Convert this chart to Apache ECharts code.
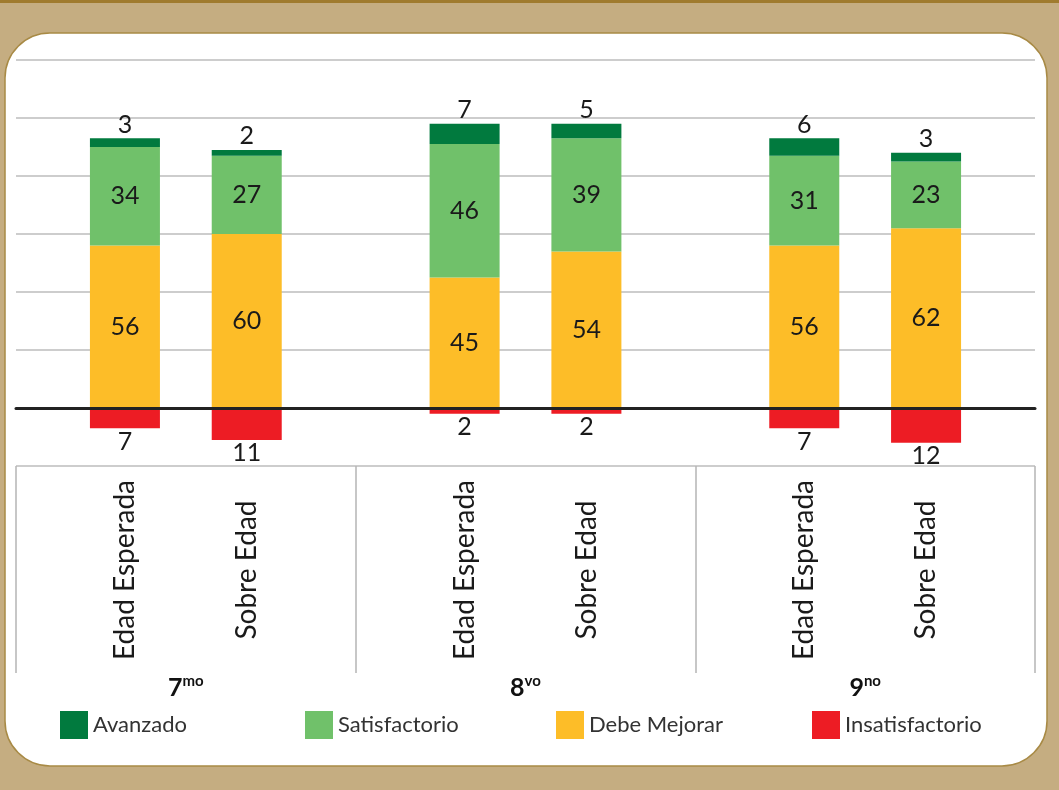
<!DOCTYPE html>
<html>
<head>
<meta charset="utf-8">
<script src="https://cdn.jsdelivr.net/npm/echarts@6/dist/echarts.min.js"></script>
<style>
html,body{margin:0;padding:0;background:#c5ad81;}
#c{width:1059px;height:790px;}
</style>
</head>
<body>
<div id="c"></div>
<script>
// ---- data ----
var grades = ['7', '8', '9'];
var gradeSuffix = ['mo', 'vo', 'no'];
var groupLabels = ['Edad Esperada', 'Sobre Edad'];
var levels = ['Avanzado', 'Satisfactorio', 'Debe Mejorar', 'Insatisfactorio'];
// Edad Esperada
var avanzadoEE = [3, 7, 6];
var satisfactorioEE = [34, 46, 31];
var debeMejorarEE = [56, 45, 56];
var insatisfactorioEE = [7, 2, 7];
// Sobre Edad
var avanzadoSE = [2, 5, 3];
var satisfactorioSE = [27, 39, 23];
var debeMejorarSE = [60, 54, 62];
var insatisfactorioSE = [11, 2, 12];
var yTicks = {min: -20, max: 120, interval: 20};

var colors = {
  'Avanzado': '#017a3e',
  'Satisfactorio': '#70c16a',
  'Debe Mejorar': '#fdbd28',
  'Insatisfactorio': '#ed1c24'
};
var FONT = 'Lato, "Open Sans", sans-serif';
var labelTxt = {fontSize: 25, color: '#1a1a1a', fontFamily: FONT};

function mk(name, stack, data, pos, neg) {
  return {
    name: name, type: 'bar', stack: stack, barWidth: 70, barGap: '74%',
    xAxisIndex: 0, yAxisIndex: 0,
    itemStyle: {color: colors[name]},
    data: neg ? data.map(function (v) { return -v; }) : data.slice(),
    label: Object.assign({
      show: true, position: pos, distance: 1,
      formatter: function (p) { return Math.abs(p.value); }
    }, labelTxt)
  };
}

var series = [
  mk('Debe Mejorar', 'EE', debeMejorarEE, 'inside'),
  mk('Satisfactorio', 'EE', satisfactorioEE, 'inside'),
  mk('Avanzado', 'EE', avanzadoEE, 'top'),
  mk('Insatisfactorio', 'EE', insatisfactorioEE, 'bottom', true),
  mk('Debe Mejorar', 'SE', debeMejorarSE, 'inside'),
  mk('Satisfactorio', 'SE', satisfactorioSE, 'inside'),
  mk('Avanzado', 'SE', avanzadoSE, 'top'),
  mk('Insatisfactorio', 'SE', insatisfactorioSE, 'bottom', true)
];

var legendLeft = [60, 305, 556, 812];
var legends = levels.map(function (n, i) {
  return {
    data: [n], left: legendLeft[i], top: 711, padding: 0,
    itemWidth: 28, itemHeight: 28, icon: 'rect', selectedMode: false,
    textStyle: {fontSize: 22, color: '#333', fontFamily: FONT}
  };
});

var chart = echarts.init(document.getElementById('c'), null, {renderer: 'canvas'});
chart.setOption({
  backgroundColor: '#c5ad81',
  animation: false,
  graphic: [
    {type: 'rect', shape: {x: 0, y: 0, width: 1059, height: 3}, style: {fill: '#a07b2e'}, z: -10},
    {type: 'rect', shape: {x: 5, y: 33, width: 1042, height: 733, r: 45},
     style: {fill: '#ffffff', stroke: '#a88a45', lineWidth: 1.5}, z: -10}
  ],
  legend: legends,
  grid: {left: 16, right: 24, top: 60, bottom: 324, containLabel: false},
  xAxis: [
    {type: 'category', data: grades, axisLine: {onZero: true, lineStyle: {color: '#222', width: 3}},
     axisTick: {show: false}, axisLabel: {show: false}, z: 10},
    {type: 'category', data: grades, position: 'bottom', axisLine: {show: false, onZero: false},
     axisTick: {show: true, length: 207, lineStyle: {color: '#b5b5b5', width: 1.5}},
     axisLabel: {
       interval: 0, rotate: 90, margin: 104, align: 'center', verticalAlign: 'middle',
       formatter: function () { return groupLabels.join('\n'); },
       lineHeight: 122, fontSize: 28, color: '#1a1a1a', fontFamily: FONT
     }},
    {type: 'category', data: grades, position: 'bottom', offset: 207,
     axisLine: {show: false, onZero: false}, axisTick: {show: false},
     axisLabel: {
       interval: 0, margin: 1,
       formatter: function (v, i) { return '{b|' + v + '}{s|' + gradeSuffix[i] + '}'; },
       rich: {
         b: {fontSize: 25, fontWeight: 'bold', color: '#111', fontFamily: FONT, verticalAlign: 'bottom', lineHeight: 26},
         s: {fontSize: 15, fontWeight: 'bold', color: '#111', fontFamily: FONT, verticalAlign: 'top', lineHeight: 26, padding: [0, 0, 10, 0]}
       }
     }}
  ],
  yAxis: {
    type: 'value', min: yTicks.min, max: yTicks.max, interval: yTicks.interval,
    axisLine: {show: false}, axisTick: {show: false}, axisLabel: {show: false},
    splitLine: {lineStyle: {color: '#bcbcbc', width: 1.5}}
  },
  series: series
});
</script>
</body>
</html>
